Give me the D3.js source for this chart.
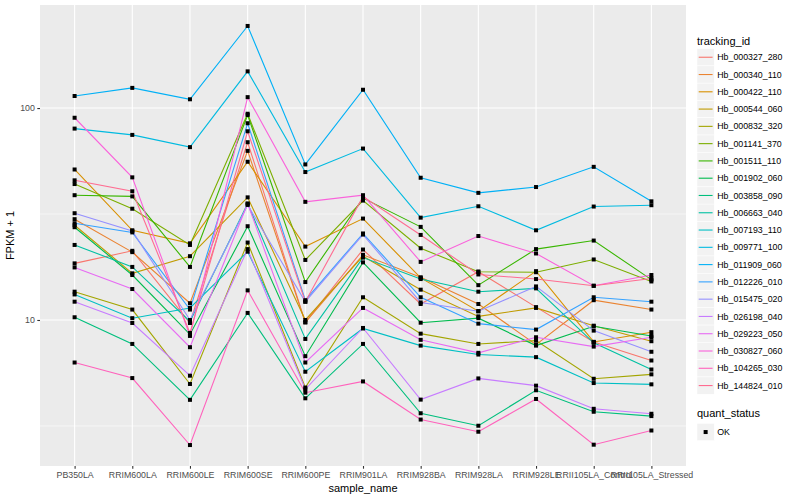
<!DOCTYPE html>
<html>
<head>
<meta charset="utf-8">
<script src="https://cdn.jsdelivr.net/npm/d3@7"></script>
<style>
  body { margin: 0; background: #fff; }
  text { font-family: "Liberation Sans", Arial, sans-serif; }
</style>
</head>
<body>
<svg id="chart" width="800" height="500"></svg>
<script>
// sample names on the x axis
const samples = ["PB350LA", "RRIM600LA", "RRIM600LE", "RRIM600SE", "RRIM600PE", "RRIM901LA",
  "RRIM928BA", "RRIM928LA", "RRIM928LE", "RRII105LA_Control", "RRII105LA_Stressed"];

const trackingIds = ["Hb_000327_280", "Hb_000340_110", "Hb_000422_110", "Hb_000544_060", "Hb_000832_320",
  "Hb_001141_370", "Hb_001511_110", "Hb_001902_060", "Hb_003858_090", "Hb_006663_040",
  "Hb_007193_110", "Hb_009771_100", "Hb_011909_060", "Hb_012226_010", "Hb_015475_020",
  "Hb_026198_040", "Hb_029223_050", "Hb_030827_060", "Hb_104265_030", "Hb_144824_010"];

// FPKM + 1, one row per tracking id, one value per sample
const fpkm = [
  [18.5, 21.2, 9.68, 69.0, 9.75, 21.5, 11.9, 16.9, 11.5, 7.88, 6.44],   // 000327_280
  [29.9, 20.9, 12.0, 62.8, 9.75, 20.3, 15.9, 11.9, 7.65, 12.4, 11.2],   // 000340_110
  [51.3, 26.5, 23.0, 55.8, 22.2, 30.1, 15.8, 11.0, 17.0, 7.88, 8.76],   // 000422_110
  [28.0, 16.6, 20.0, 37.9, 10.0, 20.0, 13.9, 10.4, 11.4, 9.40, 7.94],   // 000544_060
  [13.6, 11.2, 4.99, 23.2, 4.80, 12.8, 8.62, 7.71, 7.99, 5.28, 5.54],   // 000832_320
  [43.8, 33.5, 22.6, 94.0, 19.2, 36.6, 21.8, 16.9, 16.8, 19.3, 15.2],   // 001141_370
  [38.8, 38.3, 17.8, 92.7, 15.1, 37.6, 27.5, 14.6, 21.6, 23.7, 15.5],   // 001511_110
  [27.4, 16.3, 8.55, 27.7, 6.75, 18.7, 9.71, 10.2, 7.57, 9.34, 8.41],   // 001902_060
  [10.3, 7.71, 4.20, 10.8, 4.27, 7.71, 3.63, 3.17, 4.66, 3.69, 3.52],   // 003858_090
  [22.6, 17.8, 9.84, 35.4, 8.14, 19.7, 15.6, 13.6, 14.1, 7.80, 5.84],   // 006663_040
  [13.2, 10.2, 11.4, 21.0, 5.70, 9.12, 7.57, 6.87, 6.68, 5.04, 4.97],   // 007193_110
  [80.0, 74.7, 65.4, 149, 49.9, 64.4, 30.4, 34.4, 26.5, 34.3, 34.8],    // 009771_100
  [114, 124.5, 110, 244, 54.2, 122, 46.9, 39.8, 42.4, 52.8, 36.3],      // 011909_060
  [28.6, 25.9, 11.2, 84.8, 12.4, 25.6, 12.8, 9.61, 9.01, 12.8, 12.2],   // 012226_010
  [31.9, 26.3, 10.0, 34.9, 12.2, 25.3, 12.1, 11.0, 14.4, 8.91, 7.08],   // 015475_020
  [12.2, 9.68, 5.46, 21.6, 4.71, 9.17, 4.21, 5.30, 4.90, 3.81, 3.61],   // 026198_040
  [17.7, 14.0, 7.44, 35.4, 6.30, 11.4, 8.06, 7.00, 8.29, 7.49, 8.29],   // 029223_050
  [90.0, 47.1, 8.41, 112.6, 36.1, 38.8, 18.8, 24.9, 20.6, 14.5, 16.3],  // 030827_060
  [6.30, 5.32, 2.57, 13.8, 4.54, 5.13, 3.39, 2.97, 4.24, 2.58, 3.01],   // 104265_030
  [45.6, 40.5, 8.69, 77.7, 12.2, 38.2, 25.2, 16.4, 15.6, 14.5, 15.7]    // 144824_010
];

const statusLevels = ["OK"];
const yTickValues = [10, 100];

// ggplot hue palette for 20 levels
const palette = ["#F8766D", "#EA8331", "#D89000", "#C09B00", "#A3A500", "#7CAE00", "#39B600", "#00BB4E",
  "#00BF7D", "#00C1A3", "#00BFC4", "#00BAE0", "#00B0F6", "#35A2FF", "#9590FF", "#C77CFF",
  "#E76BF3", "#FA62DB", "#FF62BC", "#FF6C91"];

const svg = d3.select("#chart");
const panel = { left: 40, top: 5, right: 686, bottom: 466 };

const x = d3.scalePoint()
  .domain(samples)
  .range([panel.left, panel.right])
  .padding(0.6);

// log scale with ggplot's 5% expansion in log space
const allVals = fpkm.flat();
const lo = Math.log10(d3.min(allVals)), hi = Math.log10(d3.max(allVals));
const pad = (hi - lo) * 0.05;
const y = d3.scaleLog()
  .domain([Math.pow(10, lo - pad), Math.pow(10, hi + pad)])
  .range([panel.bottom, panel.top]);

const color = d3.scaleOrdinal().domain(trackingIds).range(palette);

// panel background
svg.append("rect")
  .attr("x", panel.left).attr("y", panel.top)
  .attr("width", panel.right - panel.left).attr("height", panel.bottom - panel.top)
  .attr("fill", "#EBEBEB");

// minor grid (half decades)
const minor = [Math.pow(10, 0.5), Math.pow(10, 1.5), Math.pow(10, 2.5)]
  .filter(v => v > y.domain()[0] && v < y.domain()[1]);
svg.append("g").selectAll("line").data(minor).join("line")
  .attr("x1", panel.left).attr("x2", panel.right)
  .attr("y1", d => y(d)).attr("y2", d => y(d))
  .attr("stroke", "#fff").attr("stroke-width", 0.55);

// major grid
svg.append("g").selectAll("line").data(yTickValues).join("line")
  .attr("x1", panel.left).attr("x2", panel.right)
  .attr("y1", d => y(d)).attr("y2", d => y(d))
  .attr("stroke", "#fff").attr("stroke-width", 1.1);
svg.append("g").selectAll("line").data(samples).join("line")
  .attr("x1", d => x(d)).attr("x2", d => x(d))
  .attr("y1", panel.top).attr("y2", panel.bottom)
  .attr("stroke", "#fff").attr("stroke-width", 1.1);

// one line per tracking id
const line = d3.line()
  .x((d, i) => x(samples[i]))
  .y(d => y(d));

svg.append("g").selectAll("path").data(fpkm).join("path")
  .attr("d", line)
  .attr("fill", "none")
  .attr("stroke", (d, i) => color(trackingIds[i]))
  .attr("stroke-width", 1.1);

// black square points
const pts = fpkm.flatMap(row => row.map((v, i) => ({ s: samples[i], v })));
svg.append("g").selectAll("rect").data(pts).join("rect")
  .attr("x", d => x(d.s) - 2).attr("y", d => y(d.v) - 2)
  .attr("width", 4).attr("height", 4)
  .attr("fill", "#000");

// axes
const xAxis = d3.axisBottom(x).tickSize(2.7).tickPadding(3);
const gx = svg.append("g").attr("transform", `translate(0,${panel.bottom})`).call(xAxis);
const yAxis = d3.axisLeft(y).tickValues(yTickValues).tickFormat(d3.format("d")).tickSize(2.7).tickPadding(2.5);
const gy = svg.append("g").attr("transform", `translate(${panel.left},0)`).call(yAxis);
[gx, gy].forEach(g => {
  g.select(".domain").remove();
  g.selectAll(".tick line").attr("stroke", "#333333").attr("stroke-width", 1.1);
  g.selectAll(".tick text").attr("fill", "#4D4D4D").attr("font-size", 8.8)
    .attr("font-family", "Liberation Sans, Arial, sans-serif");
});

svg.append("text")
  .attr("x", (panel.left + panel.right) / 2).attr("y", 492)
  .attr("text-anchor", "middle").attr("font-size", 11)
  .text("sample_name");
svg.append("text")
  .attr("transform", `translate(14,${(panel.top + panel.bottom) / 2}) rotate(-90)`)
  .attr("text-anchor", "middle").attr("font-size", 11)
  .text("FPKM + 1");

// legend: tracking_id
const legX = 697, keySize = 17.28, legTop = 48.6;
const leg = svg.append("g");
leg.append("text").attr("x", legX).attr("y", 44.5).attr("font-size", 11).text("tracking_id");
const rows = leg.selectAll("g.row").data(trackingIds).join("g")
  .attr("class", "row")
  .attr("transform", (d, i) => `translate(${legX},${legTop + i * keySize})`);
rows.append("rect").attr("width", keySize).attr("height", keySize)
  .attr("fill", "#F2F2F2").attr("stroke", "#fff").attr("stroke-width", 0.5);
rows.append("line")
  .attr("x1", 1.7).attr("x2", keySize - 1.7)
  .attr("y1", keySize / 2).attr("y2", keySize / 2)
  .attr("stroke", d => color(d)).attr("stroke-width", 1.1);
rows.append("text")
  .attr("x", keySize + 3).attr("y", keySize / 2).attr("dy", "0.35em")
  .attr("font-size", 8.8).text(d => d);

// legend: quant_status
const leg2Top = 423.4;
leg.append("text").attr("x", legX).attr("y", 417).attr("font-size", 11).text("quant_status");
const rows2 = leg.selectAll("g.row2").data(statusLevels).join("g")
  .attr("class", "row2")
  .attr("transform", (d, i) => `translate(${legX},${leg2Top + i * keySize})`);
rows2.append("rect").attr("width", keySize).attr("height", keySize)
  .attr("fill", "#F2F2F2").attr("stroke", "#fff").attr("stroke-width", 0.5);
rows2.append("rect")
  .attr("x", keySize / 2 - 2).attr("y", keySize / 2 - 2)
  .attr("width", 4).attr("height", 4).attr("fill", "#000");
rows2.append("text")
  .attr("x", keySize + 3).attr("y", keySize / 2).attr("dy", "0.35em")
  .attr("font-size", 8.8).text(d => d);
</script>
</body>
</html>
